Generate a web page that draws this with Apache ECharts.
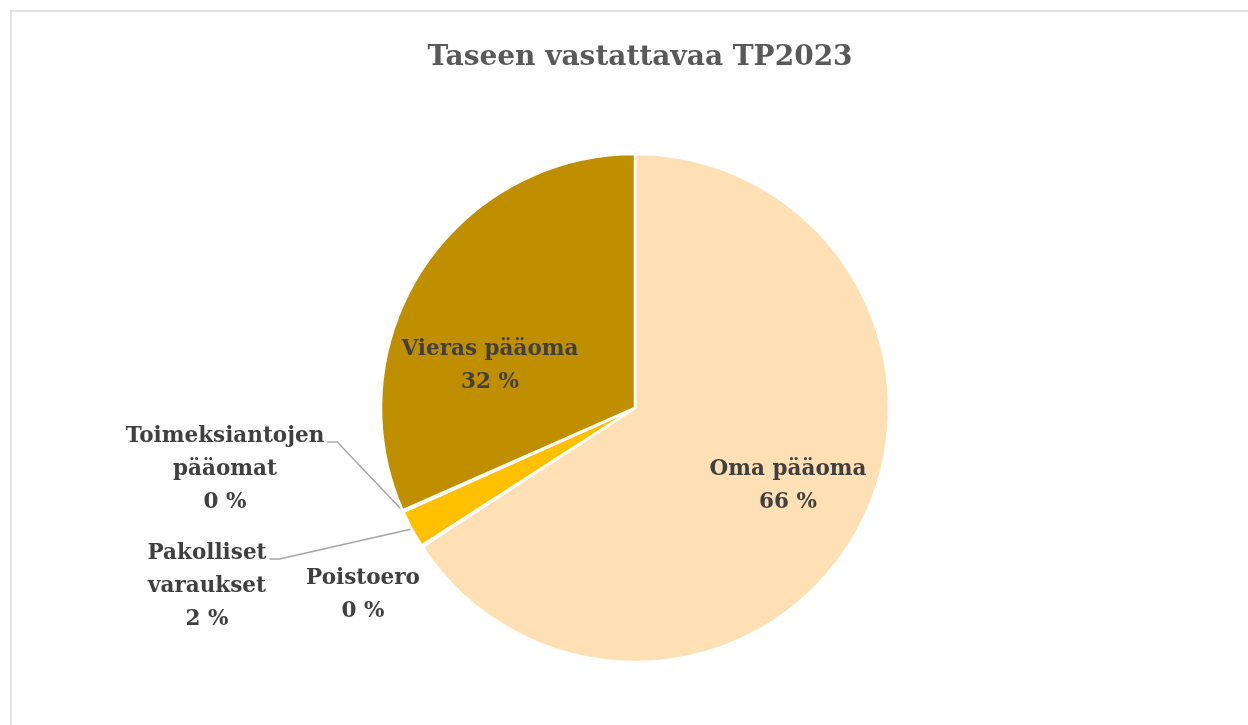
<!DOCTYPE html>
<html>
<head>
<meta charset="utf-8">
<title>Taseen vastattavaa TP2023</title>
<script src="https://cdn.jsdelivr.net/npm/echarts@6/dist/echarts.min.js"></script>
<style>
  html, body { margin: 0; padding: 0; background: #fff; }
  #chart { width: 1248px; height: 725px; }
</style>
</head>
<body>
<div id="chart"></div>
<script>
// data, clockwise from 12 o'clock
var categories = ['Oma pääoma', 'Poistoero', 'Pakolliset varaukset', 'Toimeksiantojen pääomat', 'Vieras pääoma'];
var shares = [65.8, 0.1, 2.4, 0.1, 31.6];
var colors = ['#FFE0B4', '#FFD966', '#FFC000', '#C9A227', '#BF8F00'];
var outside = [false, true, true, true, false];

// where Excel put each label (center of the text block)
var labelPos = [[788, 486], [363, 595], [207, 586], [225, 469], [490, 366]];
var lineH = 33;

var chart = echarts.init(document.getElementById('chart'));

var seriesData = [];
for (var i = 0; i < categories.length; ++i) {
    seriesData.push({
        name: categories[i],
        value: shares[i],
        itemStyle: { color: colors[i] },
        label: { position: outside[i] ? 'outside' : 'inside' },
        labelLine: { show: outside[i] && i !== 1 }
    });
}

var font = '"DejaVu Serif", "Liberation Serif", serif';

var options = {
    animation: false,
    title: {
        text: 'Taseen vastattavaa TP2023',
        left: 635,
        textAlign: 'center',
        top: 39,
        textStyle: { fontFamily: font, fontSize: 28, fontWeight: 'bold', color: '#595959' }
    },
    graphic: [{
        type: 'rect',
        shape: { x: 11, y: 11, width: 1400, height: 900 },
        style: { fill: 'none', stroke: '#d9d9d9', lineWidth: 1.5 },
        silent: true
    }],
    series: [{
        type: 'pie',
        center: [635, 408],
        radius: 254,
        startAngle: 90,
        clockwise: true,
        avoidLabelOverlap: false,
        percentPrecision: 0,
        itemStyle: { borderColor: '#fff', borderWidth: 2.5 },
        label: {
            fontFamily: font,
            fontSize: 21.5,
            fontWeight: 'bold',
            color: '#404040',
            lineHeight: lineH,
            align: 'center',
            formatter: function (p) {
                var name = outside[p.dataIndex] ? p.name.replace(' ', '\n') : p.name;
                return name + '\n' + p.percent + ' %';
            }
        },
        labelLine: {
            lineStyle: { color: '#a6a6a6', width: 1.5 }
        },
        labelLayout: function (params) {
            var pos = labelPos[params.dataIndex];
            var out = { x: pos[0], y: pos[1], align: 'center', verticalAlign: 'middle' };
            var pts = params.labelLinePoints;
            if (pts && outside[params.dataIndex]) {
                // leader runs to the right end of the label's first line
                var r = params.labelRect;
                var ex = pos[0] + r.width / 2 + 3;
                var ey = pos[1] - r.height / 2 + lineH / 2 + 6;
                out.labelLinePoints = [pts[0], [ex + 10, ey], [ex, ey]];
            }
            return out;
        },
        data: seriesData
    }]
};

chart.setOption(options);
</script>
</body>
</html>
